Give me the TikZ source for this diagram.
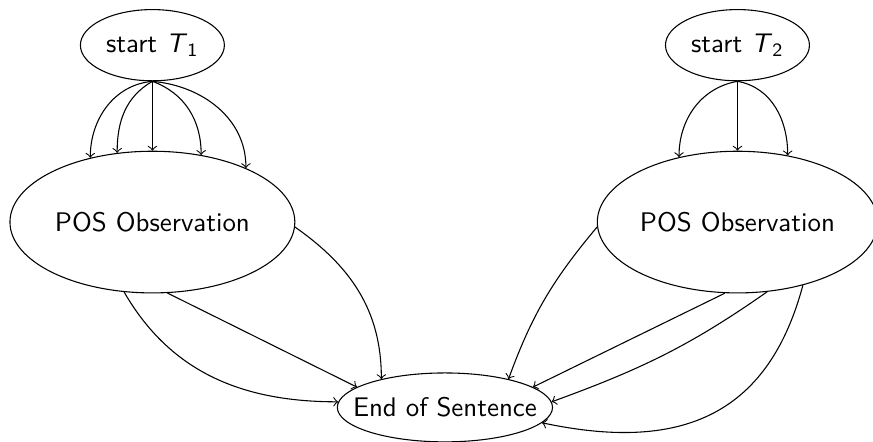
\documentclass[tikz,border=0pt]{standalone}
\usetikzlibrary{shapes.geometric}
\begin{document}
\begin{tikzpicture}[
    font=\sffamily,
    state/.style={ellipse, draw, inner sep=0pt},
    small/.style={state, minimum width=1.88cm, minimum height=0.93cm},
    big/.style={state, minimum height=1.85cm},
    arrow/.style={->}
]
\useasboundingbox (0,0) rectangle (11.40,-5.77);

% Nodes
\node[small] (start1) at (1.99, -0.59) {\makebox[0pt]{start \textit{T}\textsubscript{1}}};
\node[small] (start2) at (9.63, -0.59) {\makebox[0pt]{start \textit{T}\textsubscript{2}}};
\node[big, minimum width=3.72cm] (pos1) at (1.99, -2.90) {\makebox[0pt]{POS Observation}};
\node[big, minimum width=3.66cm] (pos2) at (9.63, -2.90) {\makebox[0pt]{POS Observation}};
\node[state, minimum width=2.81cm, minimum height=0.90cm] (eos) at (5.81, -5.32) {\makebox[0pt]{End of Sentence}};

% Left tagger
\draw[arrow] (start1.south) to[out=185, in=90] (pos1.134);
\draw[arrow] (start1.south) to[out=210, in=90] (pos1.117);
\draw[arrow] (start1.south) -- (pos1.north);
\draw[arrow] (start1.south) to[out=-20, in=90] (pos1.54);
\draw[arrow] (start1.south) to[out=-5, in=90] (pos1.30);

% Right tagger
\draw[arrow] (start2.south) to[out=190, in=90] (pos2.132);
\draw[arrow] (start2.south) -- (pos2.north);
\draw[arrow] (start2.south) to[out=-10, in=90] (pos2.53);

% Into end of sentence
\draw[arrow] (pos1.-2) to[out=-35, in=90] (eos.156);
\draw[arrow] (pos1.-78) -- (eos.167);
\draw[arrow] (pos1.-112) to[out=-60, in=180] (eos.177);
\draw[arrow] (pos2.182) to[out=230, in=70] (eos.24);
\draw[arrow] (pos2.-100) -- (eos.13);
\draw[arrow] (pos2.-67) to[out=215, in=20] (eos.3);
\draw[arrow] (pos2.-44) to[out=-105, in=-12, looseness=1.2] (eos.-9);

\end{tikzpicture}
\end{document}
